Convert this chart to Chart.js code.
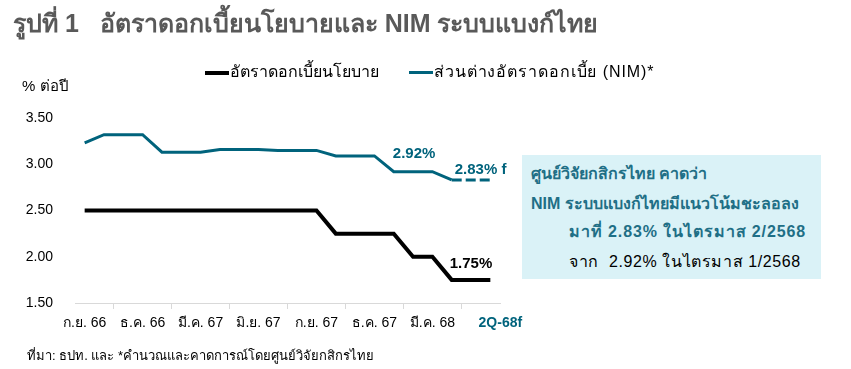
<!DOCTYPE html>
<html>
<head>
<meta charset="utf-8">
<script src="https://cdn.jsdelivr.net/npm/chart.js@4.4.1/dist/chart.umd.min.js"></script>
<style>
  html, body { margin: 0; padding: 0; background: #fff; }
  body { width: 851px; height: 369px; position: relative; overflow: hidden; font-family: "Liberation Sans", Arial, sans-serif; }
  #wrap { position: absolute; left: 0; top: 0; width: 851px; height: 369px; }
  .abs { position: absolute; white-space: nowrap; }
  #title { left: 13px; top: 3px; font-size: 25px; font-weight: bold; color: #595959; }
  #unit { left: 22px; top: 74px; font-size: 15px; color: #000; }
  .leg { top: 59px; font-size: 16px; color: #000; }
  .leg i { display: inline-block; width: 24px; height: 0; vertical-align: middle; margin-right: 1px; }
  #box { left: 522px; top: 155px; width: 299px; height: 124px; background: #daf2f7; }
  .bl { position: absolute; white-space: nowrap; font-size: 16px; }
  #src { left: 27px; top: 345px; font-size: 13px; color: #000; }
</style>
</head>
<body>
<div id="wrap"><canvas id="chart" width="851" height="369"></canvas></div>
<div class="abs" id="title">รูปที่ 1&nbsp;&nbsp;&nbsp;อัตราดอกเบี้ยนโยบายและ NIM ระบบแบงก์ไทย</div>
<div class="abs" id="unit">% ต่อปี</div>
<div class="abs leg" style="left:205px"><i style="border-top:4px solid #000"></i>อัตราดอกเบี้ยนโยบาย</div>
<div class="abs leg" style="left:409px; letter-spacing:0.9px"><i style="border-top:3px solid #00637c"></i>ส่วนต่างอัตราดอกเบี้ย (NIM)*</div>
<div class="abs" id="box">
  <div class="bl" style="left:9px; top:6px; font-weight:bold; color:#1f6f86">ศูนย์วิจัยกสิกรไทย คาดว่า</div>
  <div class="bl" style="left:9px; top:36px; font-weight:bold; color:#1f6f86">NIM ระบบแบงก์ไทยมีแนวโน้มชะลอลง</div>
  <div class="bl" style="left:47px; top:64px; font-weight:bold; color:#1f6f86; letter-spacing:0.9px">มาที่ 2.83% ในไตรมาส 2/2568</div>
  <div class="bl" style="left:47px; top:94px; color:#000; letter-spacing:0.6px">จาก&nbsp;&nbsp;2.92% ในไตรมาส 1/2568</div>
</div>
<div class="abs" id="src">ที่มา: ธปท. และ *คำนวณและคาดการณ์โดยศูนย์วิจัยกสิกรไทย</div>
<script>
// monthly categories, only every 3rd is shown on the axis
const months = [
  'ก.ย. 66', 'ต.ค. 66', 'พ.ย. 66', 'ธ.ค. 66', 'ม.ค. 67', 'ก.พ. 67', 'มี.ค. 67', 'เม.ย. 67',
  'พ.ค. 67', 'มิ.ย. 67', 'ก.ค. 67', 'ส.ค. 67', 'ก.ย. 67', 'ต.ค. 67', 'พ.ย. 67', 'ธ.ค. 67',
  'ม.ค. 68', 'ก.พ. 68', 'มี.ค. 68', 'เม.ย. 68', 'พ.ค. 68', '2Q-68f'
];
const policyRate = [2.50, 2.50, 2.50, 2.50, 2.50, 2.50, 2.50, 2.50, 2.50, 2.50, 2.50, 2.50, 2.50,
  2.25, 2.25, 2.25, 2.25, 2.00, 2.00, 1.75, 1.75, 1.75];
const nim = [3.23, 3.32, 3.32, 3.32, 3.13, 3.13, 3.13, 3.16, 3.16, 3.16, 3.15, 3.15, 3.15,
  3.09, 3.09, 3.09, 2.92, 2.92, 2.92, 2.83, 2.83, 2.83];
const yTicks = [1.5, 2.0, 2.5, 3.0, 3.5];
const forecastFrom = 19;
const lastIdx = months.length - 1;

const POLICY = '#000000';
const TEAL = '#00637c';

// value labels drawn on top of the lines
const valueLabels = {
  id: 'valueLabels',
  afterDatasetsDraw(chart) {
    const ctx = chart.ctx;
    const x = chart.scales.x, y = chart.scales.y;
    ctx.save();
    ctx.font = 'bold 15px "Liberation Sans", Arial, sans-serif';
    ctx.textBaseline = 'middle';
    ctx.textAlign = 'center';
    ctx.fillStyle = TEAL;
    ctx.fillText(nim[17].toFixed(2) + '%', x.getPixelForValue(17) + 1, y.getPixelForValue(nim[17]) - 18);
    ctx.textAlign = 'left';
    ctx.fillText(nim[lastIdx].toFixed(2) + '% f', x.getPixelForValue(19) + 3, y.getPixelForValue(nim[lastIdx]) - 10);
    ctx.textAlign = 'center';
    ctx.fillStyle = POLICY;
    ctx.fillText(policyRate[20].toFixed(2) + '%', x.getPixelForValue(20), y.getPixelForValue(policyRate[20]) - 16);
    // forecast quarter label, bold teal and nudged right like the original
    const ty = x.top + 20;
    ctx.font = 'bold 14px "Liberation Sans", Arial, sans-serif';
    ctx.fillStyle = TEAL;
    ctx.fillText(months[lastIdx], x.getPixelForValue(lastIdx) + 10, ty);
    ctx.restore();
  }
};

new Chart(document.getElementById('chart'), {
  type: 'line',
  data: {
    labels: months,
    datasets: [{
      label: 'อัตราดอกเบี้ยนโยบาย',
      data: policyRate,
      borderColor: POLICY,
      borderWidth: 4,
      pointRadius: 0,
      tension: 0
    }, {
      label: 'ส่วนต่างอัตราดอกเบี้ย (NIM)*',
      data: nim,
      borderColor: TEAL,
      borderWidth: 3,
      pointRadius: 0,
      tension: 0,
      segment: {
        borderDash: c => c.p0DataIndex >= forecastFrom ? [10, 4] : undefined
      }
    }]
  },
  options: {
    responsive: false,
    animation: false,
    layout: { padding: { left: 0, top: 118, right: 351, bottom: 0 } },
    plugins: { legend: { display: false }, tooltip: { enabled: false } },
    scales: {
      x: {
        offset: true,
        grid: { offset: true, drawOnChartArea: false, drawTicks: true, tickLength: 6, color: '#d9d9d9' },
        border: { display: true, color: '#d9d9d9' },
        afterFit: s => { s.height = 66; },
        ticks: {
          autoSkip: false,
          maxRotation: 0,
          padding: 6,
          font: { family: '"Liberation Sans", Arial, sans-serif', size: 14 },
          color: '#000',
          // the last (forecast) label gets a blank here and is painted by the plugin
          callback: (v, i) => (i === lastIdx ? ' ' : (i % 3 === 0 ? months[i] : null))
        }
      },
      y: {
        min: yTicks[0],
        max: yTicks[yTicks.length - 1],
        afterFit: s => { s.width = 75; },
        afterBuildTicks: s => { s.ticks = yTicks.map(v => ({ value: v })); },
        grid: { display: false },
        border: { display: false },
        ticks: {
          padding: 14,
          font: { family: '"Liberation Sans", Arial, sans-serif', size: 14 },
          color: '#000',
          callback: v => v.toFixed(2)
        }
      }
    }
  },
  plugins: [valueLabels]
});
</script>
</body>
</html>
